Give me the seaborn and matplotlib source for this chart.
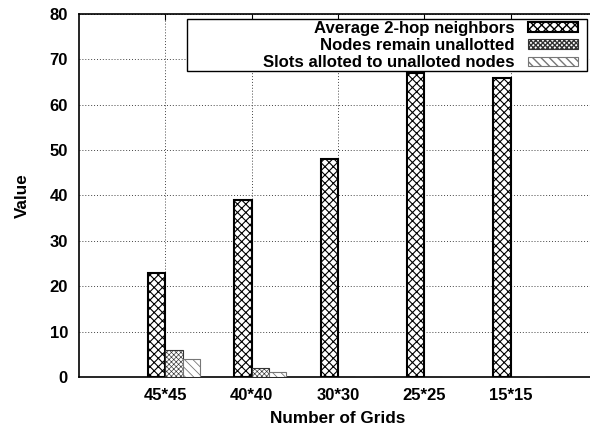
import numpy as np
import pandas as pd
import matplotlib
matplotlib.use("Agg")
import matplotlib.pyplot as plt
from matplotlib.patches import Rectangle
import seaborn as sns

# Grid sizes and the three measured quantities per grid
grids = ["45*45", "40*40", "30*30", "25*25", "15*15"]
avg_two_hop = [23, 39, 48, 67, 66]
nodes_unallotted = [6, 2, 0, 0, 0]
slots_unalloted = [4, 1, 0, 0, 0]
series_names = ["Average 2-hop neighbors",
                "Nodes remain unallotted",
                "Slots alloted to unalloted nodes"]
y_ticks = [0, 10, 20, 30, 40, 50, 60, 70, 80]

df = pd.DataFrame({
    "Grid": grids * 3,
    "Metric": [series_names[0]] * 5 + [series_names[1]] * 5 + [series_names[2]] * 5,
    "Value": avg_two_hop + nodes_unallotted + slots_unalloted,
})

sns.set_style("white")
plt.rcParams["font.family"] = ["Liberation Sans", "DejaVu Sans"]
plt.rcParams["font.weight"] = "bold"
plt.rcParams["axes.labelweight"] = "bold"
plt.rcParams["text.color"] = "black"
plt.rcParams["axes.labelcolor"] = "black"
plt.rcParams["xtick.color"] = "black"
plt.rcParams["ytick.color"] = "black"

fig = plt.figure(figsize=(5.9, 4.34), dpi=100)
ax = fig.add_axes([79 / 590, 57 / 434, 518 / 590, 363 / 434])

sns.barplot(data=df, x="Grid", y="Value", hue="Metric", order=grids,
            hue_order=series_names, width=0.6, gap=0, legend=False,
            palette=["white"] * 3, saturation=1, ax=ax, zorder=3)

styles = [
    dict(hatch="xxxx", edgecolor="black", linewidth=1.5, hlw=0.8),
    dict(hatch="xxxxxxx", edgecolor="#333333", linewidth=0.8, hlw=0.45),
    dict(hatch="\\\\\\\\", edgecolor="#777777", linewidth=0.8, hlw=0.6),
]
for cont, st in zip(ax.containers, styles):
    for p in cont.patches:
        p.set_facecolor("white")
        p.set_hatch(st["hatch"])
        p.set_edgecolor(st["edgecolor"])
        p.set_linewidth(st["linewidth"])
        if hasattr(p, "set_hatch_linewidth"):
            p.set_hatch_linewidth(st["hlw"])

# Category ticks sit at the right edge of the first bar in each group
pos = np.arange(len(grids)) - 0.1
ax.set_xticks(pos)
ax.set_xticklabels(grids)
ax.set_xlim(-1.1, 4.9)
ax.set_ylim(0, 80)
ax.set_yticks(y_ticks)

ax.grid(True, linestyle=(0, (1, 2)), color="#444444", linewidth=0.7, zorder=0)
ax.set_axisbelow(True)
for s in ax.spines.values():
    s.set_color("black")
    s.set_linewidth(1.2)
ax.tick_params(direction="in", length=4, width=0.8, top=True, right=True,
               labelsize=12, pad=8, colors="black")
for lab in ax.get_xticklabels() + ax.get_yticklabels():
    lab.set_fontweight("bold")

ax.set_xlabel("Number of Grids", fontsize=12.3, fontweight="bold", labelpad=6)
ax.set_ylabel("Value", fontsize=12.3, fontweight="bold", labelpad=14)

# Legend box frame
fig.patches.append(Rectangle((187 / 590, 363 / 434), 400 / 590, 52 / 434,
                             transform=fig.transFigure, facecolor="white",
                             edgecolor="black", linewidth=1.0, zorder=5))

handles = [cont.patches[0] for cont in ax.containers]
leg = fig.legend(handles, series_names, loc="upper right",
                 bbox_to_anchor=(580 / 590, 1 - 19 / 434),
                 frameon=False, markerfirst=False,
                 prop={"weight": "bold", "size": 12.1},
                 handlelength=3.0, handleheight=0.5, handletextpad=0.8,
                 labelspacing=0.14, borderpad=0.1, borderaxespad=0)
leg.set_zorder(6)

fig.savefig("out.png", dpi=100)
